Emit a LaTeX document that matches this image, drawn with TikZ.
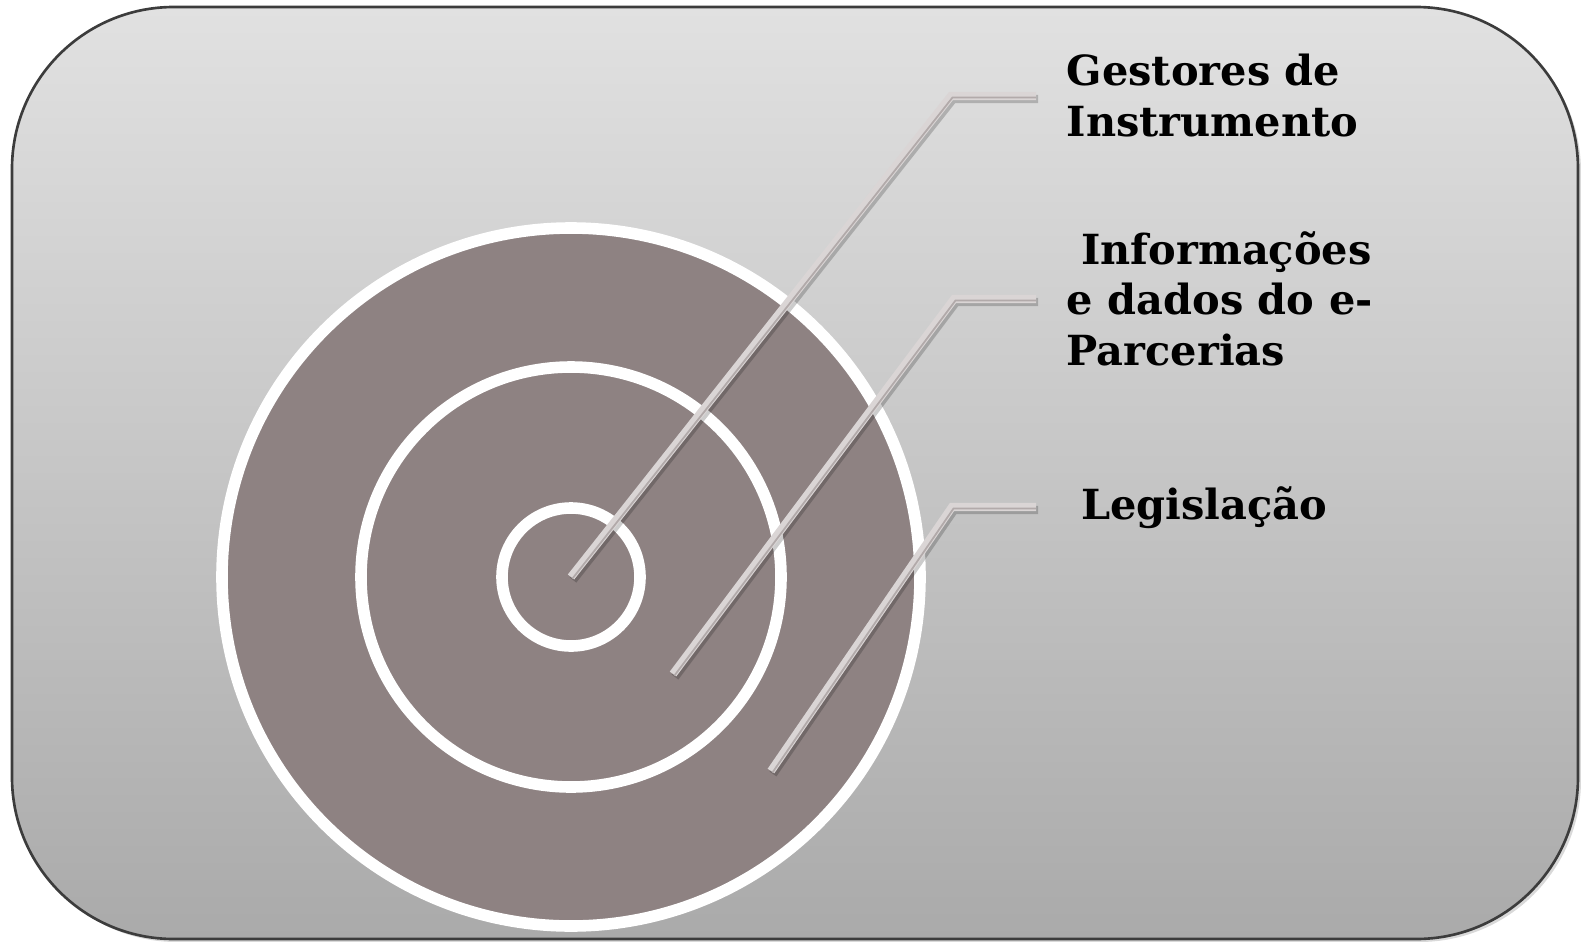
\documentclass[tikz,border=0pt]{standalone}
\usepackage{fontspec}
\setmainfont{DejaVu Serif}
\definecolor{bgtop}{RGB}{225,225,225}
\definecolor{bgbot}{RGB}{170,170,170}
\definecolor{frame}{RGB}{60,60,60}
\definecolor{ringfill}{RGB}{142,130,130}
\definecolor{leadlight}{RGB}{218,213,213}
\definecolor{leaddark}{RGB}{178,170,170}
\tikzset{
  ring/.style={draw=white, line width=3.3pt, fill=ringfill},
  leadshadow/.style={draw=black, opacity=0.2, line width=2.4pt},
  leadline/.style={draw=leadlight, line width=2.3pt},
  leadstripe/.style={draw=leaddark, line width=0.5pt},
  lbl/.style={anchor=base west, align=left, inner sep=0pt, font=\fontsize{11.8}{14.3}\selectfont\bfseries, text=black},
}
\begin{document}
\begin{tikzpicture}[x=0.01cm, y=-0.01cm]
\useasboundingbox (0,0) rectangle (1581,942);
% background panel
\fill[black, opacity=0.15, rounded corners=46pt] (15,10) rectangle (1581,942);
\shade[top color=bgtop, bottom color=bgbot, rounded corners=46pt] (12,7) rectangle (1578,939);
\draw[frame, line width=0.75pt, rounded corners=46pt] (12,7) rectangle (1578,939);
% target rings
\coordinate (c) at (571,577);
\draw[ring] (c) circle (349);
\draw[ring] (c) circle (210);
\draw[ring] (c) circle (69);
% leader geometry
\coordinate (p1) at (571,577);
\coordinate (b1) at (951,96);
\coordinate (e1) at (1036,96);
\coordinate (p2) at (673,674);
\coordinate (b2) at (954,299);
\coordinate (e2) at (1036,299);
\coordinate (p3) at (771,771);
\coordinate (b3) at (952,507);
\coordinate (e3) at (1036,507);
% labels (anchor is the baseline of the last line)
\node[lbl] (l1) at (1066,136) {Gestores de\\Instrumento};
\node[lbl] (l2) at (1066,365) {\ Informações\\e dados do e-\\Parcerias};
\node[lbl] (l3) at (1066,519) {\ Legislação};
% leaders
\foreach \i in {1,2,3}{
  \draw[leadshadow, line join=miter] ([shift={(2,3)}]p\i) -- ([shift={(2,3)}]b\i) -- ([shift={(2,3)}]e\i);
  \draw[leadline, line join=miter] (p\i) -- (b\i) -- (e\i);
  \draw[leadstripe] ([shift={(1.5,1.5)}]p\i) -- ([shift={(1.5,1.5)}]b\i) -- ([shift={(0,1.5)}]e\i);
}
\end{tikzpicture}
\end{document}
